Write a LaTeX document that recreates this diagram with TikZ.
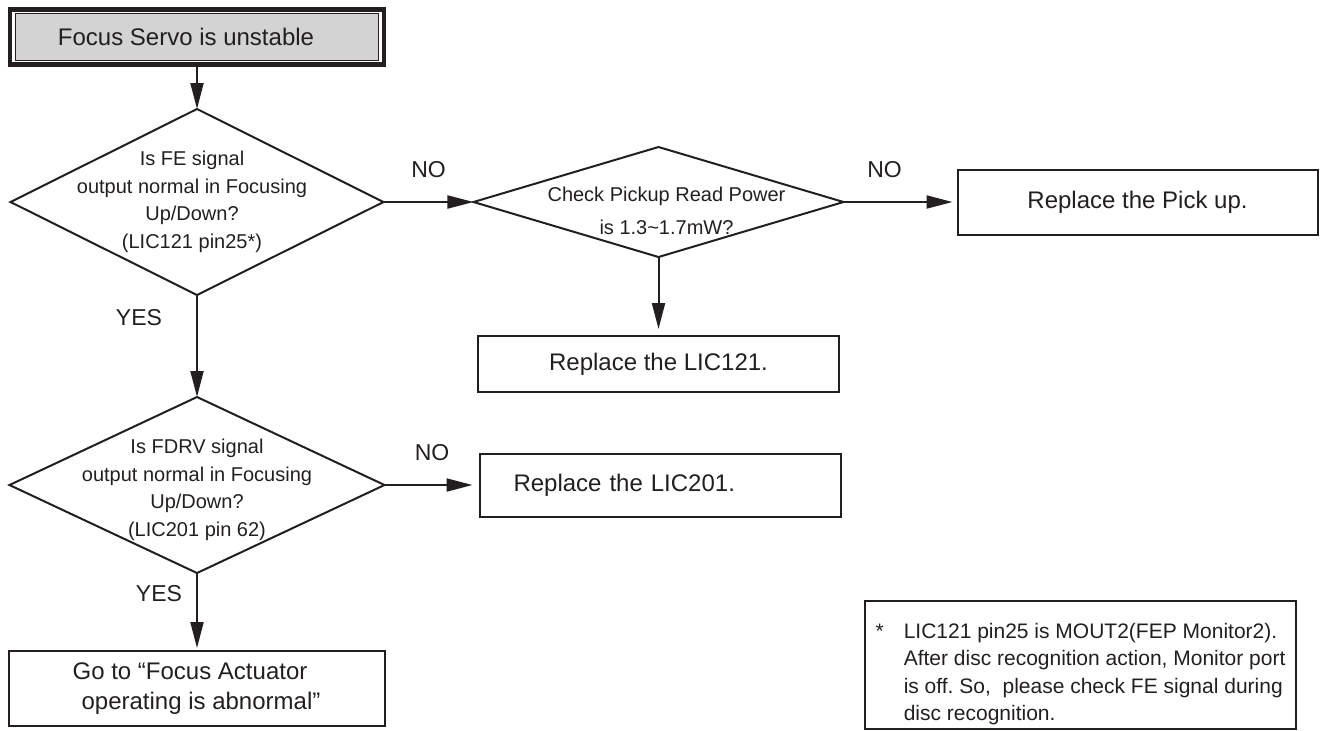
\documentclass[tikz,border=0pt]{standalone}
\usepackage{fontspec}
\setmainfont{Liberation Sans}
\usepackage{xcolor}
\usetikzlibrary{arrows.meta,positioning,fit,shapes.geometric}

\definecolor{ink}{HTML}{231F20}
\definecolor{panel}{HTML}{D3D3D3}
\newcommand\boxfont{\fontsize{12}{15}\selectfont}
\newcommand\dfont{\fontsize{10}{13.75}\selectfont}
\newcommand\notefont{\fontsize{10.5}{13.75}\selectfont}
\newcommand\tagfont{\fontsize{11.5}{14}\selectfont}

\begin{document}
\begin{tikzpicture}[x=0.5pt, y=-0.5pt, >={Triangle[length=13pt,width=6.5pt]},
  every node/.style={align=center, text=ink, outer sep=0pt},
  decision/.style={diamond, draw=ink, line width=1pt, inner sep=0pt},
  dtext/.style={font=\dfont, inner sep=0pt},
  proc/.style={draw=ink, line width=1pt, font=\boxfont, inner sep=0pt},
  tag/.style={font=\tagfont, inner sep=0pt},
  flow/.style={->, line width=1pt, draw=ink}]
\useasboundingbox (0,0) rectangle (1320,730);
\node[proc, fill=panel, line width=0.5pt, minimum width=181.5pt, minimum height=23.5pt] (title) at (197,37) {Focus Servo is unstable\hspace*{11pt}};
\node[fit=(title), draw=ink, line width=2.1pt, inner xsep=2.75pt, inner ysep=2pt] (frame) {};
\node[decision, below=22.25pt of frame, minimum width=186.5pt, minimum height=93pt,
  label={[dtext, xshift=-2.5pt]center:{Is FE signal\\output normal in Focusing\\Up/Down?\\(LIC121 pin25*)}}] (d1) {};
\node[decision, right=45pt of d1, minimum width=185pt, minimum height=55pt,
  label={[dtext, xshift=4pt, yshift=-4.5pt]center:{Check Pickup Read Power\\[2.5pt]is 1.3\textasciitilde1.7mW?}}] (d3) {};
\node[proc, right=57pt of d3, minimum width=180pt, minimum height=32.5pt] (pickup) {Replace the Pick up.};
\node[proc, below=39.5pt of d3, minimum width=180.5pt, minimum height=28pt] (lic121) {Replace the LIC121.};
\node[decision, below=51pt of d1, minimum width=187.5pt, minimum height=88pt,
  label={[dtext, yshift=-2.5pt]center:{Is FDRV signal\\output normal in Focusing\\Up/Down?\\(LIC201 pin 62)}}] (d2) {};
\node[proc, right=47.5pt of d2, minimum width=180.5pt, minimum height=31.5pt, text width=146.5pt, inner xsep=17pt, align=left] (lic201) {Replace the LIC201.};
\node[proc, below=39pt of d2, minimum width=188pt, minimum height=37.5pt] (goto) {Go to “Focus Actuator\hspace*{7pt}\\\hspace*{4pt}operating is abnormal”};
\node[draw=ink, line width=1.1pt, minimum width=215.5pt, minimum height=63pt, font=\notefont, inner sep=0pt] (note) at (1080.5,665)
  {\raisebox{0pt}[\dimexpr\height+9pt\relax][\depth]{\begin{tabular}{@{}l@{\hspace{10pt}}l@{}}*&LIC121 pin25 is MOUT2(FEP Monitor2).\\&After disc recognition action, Monitor port\\&is off.\ So,\ \ please check FE signal during\\&disc recognition.\end{tabular}}};
\draw[flow] (frame) -- (d1);
\draw[flow] (d1) -- node[tag, left=17.5pt, pos=0.22]{YES} (d2);
\draw[flow, shorten >=1.5pt] (d2) -- node[tag, left=7.5pt, pos=0.26]{YES} (goto);
\draw[flow] (d1) -- node[tag, above=12pt]{NO} (d3);
\draw[flow, shorten >=2.5pt] (d3) -- node[tag, above=12pt, pos=0.36]{NO} (pickup);
\draw[flow, shorten >=3.5pt] (d3) -- (lic121);
\draw[flow, shorten >=3.5pt] (d2) -- node[tag, above=12pt]{NO} (lic201);
\end{tikzpicture}
\end{document}
